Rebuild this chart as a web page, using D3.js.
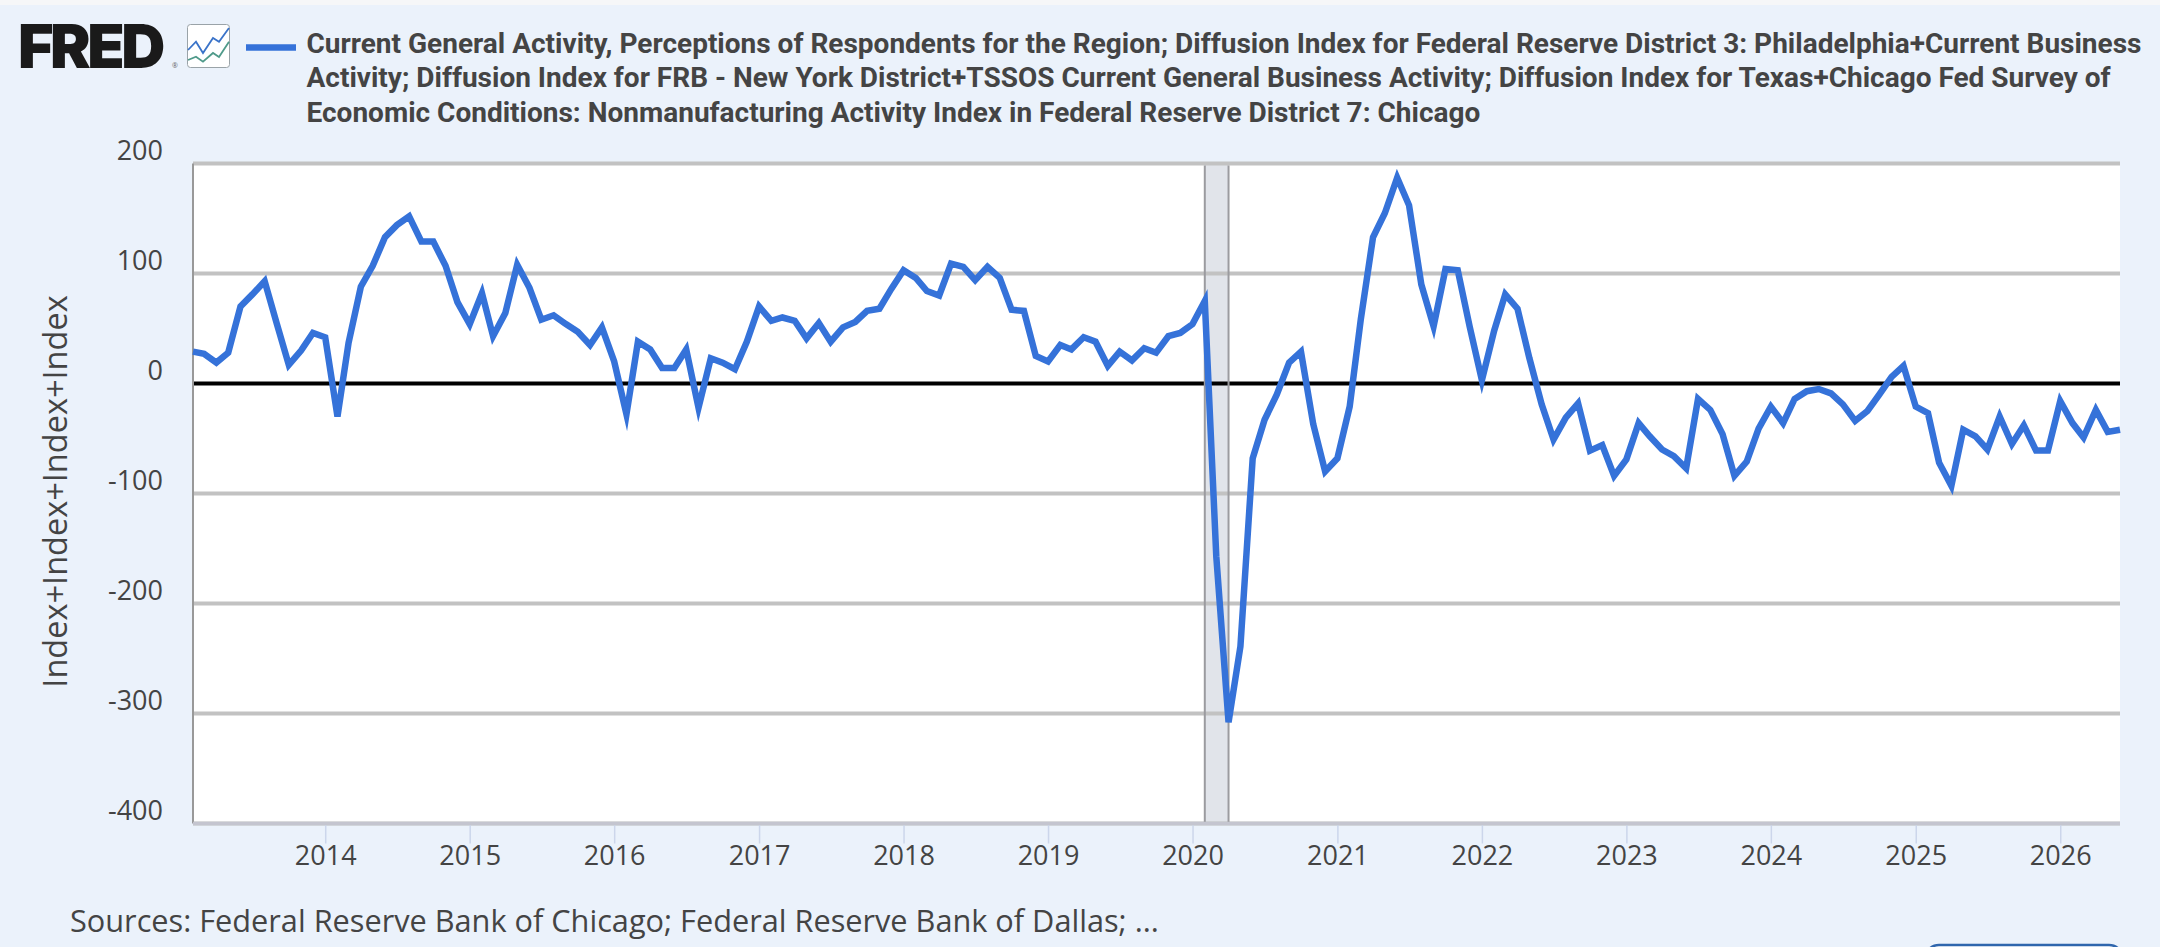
<!DOCTYPE html>
<html>
<head>
<meta charset="utf-8">
<script src="https://cdn.jsdelivr.net/npm/d3@7/dist/d3.min.js"></script>
<style>
  html, body { margin: 0; padding: 0; background: #ebf2fb; }
  svg { display: block; }
  text { font-family: "Open Sans", sans-serif; fill: #444; }
</style>
</head>
<body>
<svg id="chart" width="2160" height="947"></svg>
<script>
// Combined regional diffusion index, monthly, Feb 2013 to Jun 2026
const seriesValues = [
  29, 27, 19, 28, 70, 81, 93, 54, 17, 30, 46, 42,
  -30, 37, 88, 107, 133, 144, 152, 129, 129, 107, 74, 54,
  82, 43, 64, 108, 87, 58, 62, 54, 47, 35, 51, 20,
  -28, 38, 31, 14, 14, 31, -22, 23, 19, 13, 38, 70,
  57, 60, 57, 41, 55, 38, 51, 56, 66, 68, 86, 103,
  96, 84, 80, 109, 106, 94, 106, 96, 67, 66, 25, 20,
  35, 31, 42, 38, 16, 29, 21, 32, 28, 43, 46, 54,
  75, -157, -308, -239, -68, -33, -10, 19, 29, -37, -80, -68,
  -21, 58, 133, 155, 187, 162, 90, 52, 104, 103, 52, 3,
  48, 81, 68, 23, -19, -51, -31, -18, -61, -56, -84, -69,
  -36, -48, -60, -66, -77, -14, -24, -46, -84, -71, -41, -21,
  -36, -14, -7, -5, -9, -19, -34, -25, -10, 6, 16, -21,
  -27, -72, -93, -42, -48, -60, -30, -55, -38, -61, -61, -16,
  -36, -49, -24, -44, -42
];
const firstMonth = new Date(2013, 1, 1);
const lastMonth = new Date(2026, 5, 1);
const months = d3.timeMonth.range(firstMonth, d3.timeMonth.offset(lastMonth, 1));

const yTicks = [200, 100, 0, -100, -200, -300, -400];
const xTickYears = [2014, 2015, 2016, 2017, 2018, 2019, 2020, 2021, 2022, 2023, 2024, 2025, 2026];
const recession = [new Date(2020, 1, 1), new Date(2020, 3, 1)];

const legendLines = [
  "Current General Activity, Perceptions of Respondents for the Region; Diffusion Index for Federal Reserve District 3: Philadelphia+Current Business",
  "Activity; Diffusion Index for FRB - New York District+TSSOS Current General Business Activity; Diffusion Index for Texas+Chicago Fed Survey of",
  "Economic Conditions: Nonmanufacturing Activity Index in Federal Reserve District 7: Chicago"
];
const yAxisTitle = "Index+Index+Index+Index";
const sourceNote = "Sources: Federal Reserve Bank of Chicago; Federal Reserve Bank of Dallas; ...";

const plot = { left: 193, right: 2120, top: 163.5, bottom: 823.5 };
const blue = "#3572d9";

const svg = d3.select("#chart");
const x = d3.scaleTime().domain([firstMonth, lastMonth]).range([plot.left, plot.right]);
const y = d3.scaleLinear().domain([-400, 200]).range([plot.bottom, plot.top]);

// Page background and the pale strip along the top edge
svg.append("rect").attr("width", 2160).attr("height", 947).attr("fill", "#ebf2fb");
svg.append("rect").attr("width", 2160).attr("height", 5).attr("fill", "#f6f7f8");

// Plot area
svg.append("rect")
  .attr("x", plot.left).attr("y", plot.top)
  .attr("width", plot.right - plot.left).attr("height", plot.bottom - plot.top)
  .attr("fill", "#fff");

// Recession band
svg.append("rect")
  .attr("x", x(recession[0])).attr("y", plot.top)
  .attr("width", x(recession[1]) - x(recession[0])).attr("height", plot.bottom - plot.top)
  .attr("fill", "#e1e4ea");

// Horizontal grid with a heavy zero line
const yAxis = svg.append("g")
  .attr("transform", `translate(${plot.left},0)`)
  .call(d3.axisLeft(y).tickValues(yTicks).tickSize(0).tickPadding(30).tickFormat(d => String(d)));
yAxis.select(".domain").remove();
yAxis.selectAll("text")
  .attr("dy", null).attr("y", -4)
  .style("font-family", '"Open Sans", sans-serif')
  .style("font-size", "27px")
  .style("fill", "#444");

svg.append("g").selectAll("line").data(yTicks).join("line")
  .attr("x1", plot.left).attr("x2", plot.right)
  .attr("y1", d => y(d)).attr("y2", d => y(d))
  .attr("stroke", d => d === 0 ? "#000" : "#c2c2c2")
  .attr("stroke-width", 4);

// Recession band edges sit above the grid
svg.append("g").selectAll("line").data(recession).join("line")
  .attr("x1", d => x(d)).attr("x2", d => x(d))
  .attr("y1", plot.top + 2).attr("y2", plot.bottom)
  .attr("stroke", "#9b9b9f").attr("stroke-width", 2);

// Left edge of the plot
svg.append("line")
  .attr("x1", plot.left).attr("x2", plot.left)
  .attr("y1", plot.top).attr("y2", plot.bottom)
  .attr("stroke", "#999").attr("stroke-width", 2);

// Bottom axis
const xAxis = svg.append("g")
  .attr("transform", `translate(0,${plot.bottom})`)
  .call(d3.axisBottom(x)
    .tickValues(xTickYears.map(yr => new Date(yr, 0, 1)))
    .tickSize(20).tickPadding(2).tickFormat(d3.timeFormat("%Y")));
xAxis.select(".domain").remove();
xAxis.selectAll("line").attr("stroke", "#ccd6eb").attr("stroke-width", 1.5);
xAxis.selectAll("text")
  .style("font-family", '"Open Sans", sans-serif')
  .style("font-size", "27px")
  .style("fill", "#444");
svg.append("line")
  .attr("x1", plot.left).attr("x2", plot.right)
  .attr("y1", plot.bottom).attr("y2", plot.bottom)
  .attr("stroke", "#c4c5cf").attr("stroke-width", 3.5);

// Series line
const line = d3.line().x((d, i) => x(months[i])).y(d => y(d));
svg.append("path")
  .attr("d", line(seriesValues))
  .attr("fill", "none")
  .attr("stroke", blue)
  .attr("stroke-width", 6.5)
  .attr("stroke-linejoin", "miter")
  .attr("stroke-miterlimit", 6);

// Wordmark
svg.append("text")
  .attr("x", 18).attr("y", 68)
  .style("font-family", "Inter, sans-serif")
  .style("font-weight", 900)
  .style("font-size", "61px")
  .style("letter-spacing", "-3.5px")
  .style("fill", "#1a1a1a")
  .text("FRED");
svg.append("text")
  .attr("x", 172).attr("y", 68)
  .style("font-size", "7px").style("fill", "#666")
  .text("®");

// Small chart icon beside the wordmark
const iconBlue = [[188, 50], [196, 41.7], [203, 53], [213, 38], [219, 41.7], [229, 28]];
const iconGreen = [[188, 60], [196, 56.7], [203, 61.7], [213, 53], [219, 57], [229, 41.7]];
const icon = svg.append("g");
icon.append("rect")
  .attr("x", 187.5).attr("y", 24.5).attr("width", 42).attr("height", 43).attr("rx", 3)
  .attr("fill", "#fff").attr("stroke", "#9aa3a8").attr("stroke-width", 1);
icon.append("path").attr("d", d3.line()(iconBlue)).attr("fill", "none").attr("stroke", "#3a73c9").attr("stroke-width", 1.8);
icon.append("path").attr("d", d3.line()(iconGreen)).attr("fill", "none").attr("stroke", "#4f9a8a").attr("stroke-width", 1.8);

// Legend
svg.append("line")
  .attr("x1", 246).attr("x2", 296).attr("y1", 47.5).attr("y2", 47.5)
  .attr("stroke", blue).attr("stroke-width", 6.5);
svg.append("g").selectAll("text").data(legendLines).join("text")
  .attr("x", 306.5)
  .attr("y", (d, i) => 53 + i * 34.3)
  .style("font-family", "Roboto, sans-serif")
  .style("font-weight", 700)
  .style("font-size", "28px")
  .style("fill", "#444")
  .text(d => d);

// Axis title
svg.append("text")
  .attr("transform", `translate(67,${(plot.top + plot.bottom) / 2 - 2}) rotate(-90)`)
  .attr("text-anchor", "middle")
  .style("font-size", "32.5px")
  .text(yAxisTitle);

// Source note
svg.append("text")
  .attr("x", 70).attr("y", 932)
  .style("font-size", "30.7px")
  .text(sourceNote);

// Top of the button cut off at the page edge
svg.append("rect")
  .attr("x", 1925).attr("y", 945).attr("width", 198).attr("height", 40).attr("rx", 14)
  .attr("fill", "#fff").attr("stroke", "#2f66ad").attr("stroke-width", 2.5);
</script>
</body>
</html>
